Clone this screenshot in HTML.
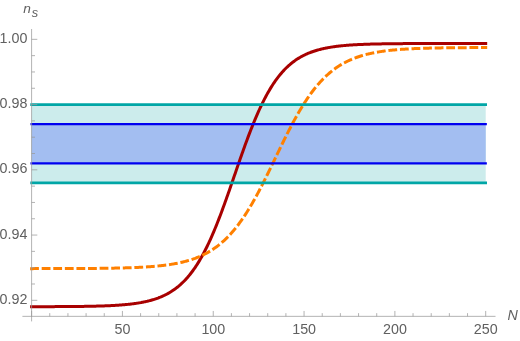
<!DOCTYPE html>
<html><head><meta charset="utf-8"><style>
html,body{margin:0;padding:0;background:#fff;}
body{width:520px;height:341px;overflow:hidden;font-family:"Liberation Sans",sans-serif;}
svg{display:block;will-change:transform;}
text{font-family:"Liberation Sans",sans-serif;font-size:14.3px;fill:#606060;}
</style></head><body>
<svg width="520" height="341" viewBox="0 0 520 341">
<rect width="520" height="341" fill="#fff"/>
<rect x="31.60" y="104.58" width="454.10" height="78.29" fill="#ccecec"/>
<rect x="31.60" y="124.15" width="454.10" height="39.14" fill="#a3bef1"/>
<path d="M31.60,306.69 L32.36,306.68 L33.11,306.68 L33.87,306.68 L34.63,306.68 L35.38,306.68 L36.14,306.68 L36.90,306.68 L37.65,306.68 L38.41,306.67 L39.17,306.67 L39.93,306.67 L40.68,306.67 L41.44,306.67 L42.20,306.67 L42.95,306.66 L43.71,306.66 L44.47,306.66 L45.22,306.66 L45.98,306.66 L46.74,306.65 L47.49,306.65 L48.25,306.65 L49.01,306.65 L49.76,306.64 L50.52,306.64 L51.28,306.64 L52.03,306.64 L52.79,306.63 L53.55,306.63 L54.30,306.63 L55.06,306.62 L55.82,306.62 L56.58,306.62 L57.33,306.61 L58.09,306.61 L58.85,306.61 L59.60,306.60 L60.36,306.60 L61.12,306.60 L61.87,306.59 L62.63,306.59 L63.39,306.58 L64.14,306.58 L64.90,306.57 L65.66,306.57 L66.41,306.56 L67.17,306.56 L67.93,306.55 L68.68,306.55 L69.44,306.54 L70.20,306.53 L70.96,306.53 L71.71,306.52 L72.47,306.51 L73.23,306.51 L73.98,306.50 L74.74,306.49 L75.50,306.48 L76.25,306.48 L77.01,306.47 L77.77,306.46 L78.52,306.45 L79.28,306.44 L80.04,306.43 L80.79,306.42 L81.55,306.41 L82.31,306.40 L83.06,306.39 L83.82,306.38 L84.58,306.37 L85.34,306.36 L86.09,306.34 L86.85,306.33 L87.61,306.32 L88.36,306.30 L89.12,306.29 L89.88,306.28 L90.63,306.26 L91.39,306.25 L92.15,306.23 L92.90,306.21 L93.66,306.20 L94.42,306.18 L95.17,306.16 L95.93,306.14 L96.69,306.12 L97.44,306.10 L98.20,306.08 L98.96,306.06 L99.72,306.04 L100.47,306.01 L101.23,305.99 L101.99,305.96 L102.74,305.94 L103.50,305.91 L104.26,305.88 L105.01,305.86 L105.77,305.83 L106.53,305.80 L107.28,305.77 L108.04,305.73 L108.80,305.70 L109.55,305.67 L110.31,305.63 L111.07,305.59 L111.82,305.55 L112.58,305.52 L113.34,305.47 L114.09,305.43 L114.85,305.39 L115.61,305.34 L116.37,305.30 L117.12,305.25 L117.88,305.20 L118.64,305.15 L119.39,305.10 L120.15,305.04 L120.91,304.98 L121.66,304.93 L122.42,304.87 L123.18,304.80 L123.93,304.74 L124.69,304.67 L125.45,304.60 L126.20,304.53 L126.96,304.46 L127.72,304.38 L128.47,304.30 L129.23,304.22 L129.99,304.14 L130.75,304.05 L131.50,303.96 L132.26,303.87 L133.02,303.77 L133.77,303.67 L134.53,303.57 L135.29,303.47 L136.04,303.36 L136.80,303.24 L137.56,303.13 L138.31,303.01 L139.07,302.88 L139.83,302.76 L140.58,302.62 L141.34,302.49 L142.10,302.34 L142.85,302.20 L143.61,302.05 L144.37,301.89 L145.12,301.73 L145.88,301.57 L146.64,301.39 L147.40,301.22 L148.15,301.03 L148.91,300.85 L149.67,300.65 L150.42,300.45 L151.18,300.24 L151.94,300.03 L152.69,299.81 L153.45,299.58 L154.21,299.34 L154.96,299.10 L155.72,298.85 L156.48,298.59 L157.23,298.32 L157.99,298.05 L158.75,297.76 L159.50,297.47 L160.26,297.17 L161.02,296.85 L161.78,296.53 L162.53,296.20 L163.29,295.86 L164.05,295.50 L164.80,295.14 L165.56,294.76 L166.32,294.38 L167.07,293.98 L167.83,293.57 L168.59,293.14 L169.34,292.71 L170.10,292.26 L170.86,291.80 L171.61,291.32 L172.37,290.83 L173.13,290.32 L173.88,289.80 L174.64,289.26 L175.40,288.71 L176.16,288.14 L176.91,287.56 L177.67,286.96 L178.43,286.34 L179.18,285.70 L179.94,285.05 L180.70,284.37 L181.45,283.68 L182.21,282.97 L182.97,282.24 L183.72,281.49 L184.48,280.72 L185.24,279.92 L185.99,279.11 L186.75,278.27 L187.51,277.41 L188.26,276.53 L189.02,275.63 L189.78,274.70 L190.53,273.75 L191.29,272.78 L192.05,271.78 L192.81,270.75 L193.56,269.70 L194.32,268.63 L195.08,267.53 L195.83,266.40 L196.59,265.25 L197.35,264.07 L198.10,262.86 L198.86,261.63 L199.62,260.37 L200.37,259.08 L201.13,257.76 L201.89,256.42 L202.64,255.04 L203.40,253.64 L204.16,252.22 L204.91,250.76 L205.67,249.27 L206.43,247.76 L207.19,246.22 L207.94,244.65 L208.70,243.05 L209.46,241.43 L210.21,239.77 L210.97,238.09 L211.73,236.39 L212.48,234.65 L213.24,232.89 L214.00,231.10 L214.75,229.29 L215.51,227.46 L216.27,225.59 L217.02,223.71 L217.78,221.80 L218.54,219.87 L219.29,217.91 L220.05,215.94 L220.81,213.94 L221.57,211.93 L222.32,209.89 L223.08,207.84 L223.84,205.77 L224.59,203.68 L225.35,201.58 L226.11,199.47 L226.86,197.34 L227.62,195.20 L228.38,193.05 L229.13,190.89 L229.89,188.72 L230.65,186.54 L231.40,184.36 L232.16,182.17 L232.92,179.98 L233.67,177.78 L234.43,175.58 L235.19,173.39 L235.94,171.19 L236.70,169.00 L237.46,166.81 L238.22,164.62 L238.97,162.44 L239.73,160.27 L240.49,158.10 L241.24,155.95 L242.00,153.80 L242.76,151.67 L243.51,149.55 L244.27,147.44 L245.03,145.35 L245.78,143.27 L246.54,141.21 L247.30,139.17 L248.05,137.14 L248.81,135.14 L249.57,133.15 L250.32,131.19 L251.08,129.25 L251.84,127.33 L252.60,125.43 L253.35,123.56 L254.11,121.71 L254.87,119.89 L255.62,118.09 L256.38,116.32 L257.14,114.57 L257.89,112.86 L258.65,111.16 L259.41,109.50 L260.16,107.86 L260.92,106.25 L261.68,104.67 L262.43,103.11 L263.19,101.59 L263.95,100.09 L264.70,98.62 L265.46,97.18 L266.22,95.77 L266.98,94.38 L267.73,93.02 L268.49,91.70 L269.25,90.39 L270.00,89.12 L270.76,87.87 L271.52,86.66 L272.27,85.46 L273.03,84.30 L273.79,83.16 L274.54,82.05 L275.30,80.96 L276.06,79.90 L276.81,78.87 L277.57,77.86 L278.33,76.87 L279.08,75.91 L279.84,74.97 L280.60,74.06 L281.36,73.17 L282.11,72.30 L282.87,71.45 L283.63,70.63 L284.38,69.83 L285.14,69.04 L285.90,68.28 L286.65,67.54 L287.41,66.82 L288.17,66.12 L288.92,65.44 L289.68,64.78 L290.44,64.13 L291.19,63.51 L291.95,62.90 L292.71,62.30 L293.46,61.73 L294.22,61.17 L294.98,60.63 L295.73,60.10 L296.49,59.59 L297.25,59.09 L298.01,58.60 L298.76,58.14 L299.52,57.68 L300.28,57.24 L301.03,56.81 L301.79,56.39 L302.55,55.99 L303.30,55.60 L304.06,55.22 L304.82,54.85 L305.57,54.49 L306.33,54.14 L307.09,53.81 L307.84,53.48 L308.60,53.16 L309.36,52.86 L310.11,52.56 L310.87,52.27 L311.63,51.99 L312.39,51.72 L313.14,51.46 L313.90,51.20 L314.66,50.96 L315.41,50.72 L316.17,50.48 L316.93,50.26 L317.68,50.04 L318.44,49.83 L319.20,49.63 L319.95,49.43 L320.71,49.24 L321.47,49.05 L322.22,48.87 L322.98,48.70 L323.74,48.53 L324.49,48.37 L325.25,48.21 L326.01,48.06 L326.77,47.91 L327.52,47.77 L328.28,47.63 L329.04,47.49 L329.79,47.36 L330.55,47.24 L331.31,47.11 L332.06,47.00 L332.82,46.88 L333.58,46.77 L334.33,46.66 L335.09,46.56 L335.85,46.46 L336.60,46.36 L337.36,46.27 L338.12,46.18 L338.87,46.09 L339.63,46.01 L340.39,45.92 L341.14,45.84 L341.90,45.77 L342.66,45.69 L343.42,45.62 L344.17,45.55 L344.93,45.48 L345.69,45.42 L346.44,45.35 L347.20,45.29 L347.96,45.23 L348.71,45.17 L349.47,45.12 L350.23,45.06 L350.98,45.01 L351.74,44.96 L352.50,44.91 L353.25,44.87 L354.01,44.82 L354.77,44.78 L355.52,44.73 L356.28,44.69 L357.04,44.65 L357.80,44.61 L358.55,44.58 L359.31,44.54 L360.07,44.51 L360.82,44.47 L361.58,44.44 L362.34,44.41 L363.09,44.38 L363.85,44.35 L364.61,44.32 L365.36,44.29 L366.12,44.26 L366.88,44.24 L367.63,44.21 L368.39,44.19 L369.15,44.16 L369.90,44.14 L370.66,44.12 L371.42,44.10 L372.18,44.08 L372.93,44.06 L373.69,44.04 L374.45,44.02 L375.20,44.00 L375.96,43.98 L376.72,43.97 L377.47,43.95 L378.23,43.94 L378.99,43.92 L379.74,43.91 L380.50,43.89 L381.26,43.88 L382.01,43.86 L382.77,43.85 L383.53,43.84 L384.28,43.83 L385.04,43.81 L385.80,43.80 L386.55,43.79 L387.31,43.78 L388.07,43.77 L388.83,43.76 L389.58,43.75 L390.34,43.74 L391.10,43.73 L391.85,43.73 L392.61,43.72 L393.37,43.71 L394.12,43.70 L394.88,43.69 L395.64,43.69 L396.39,43.68 L397.15,43.67 L397.91,43.67 L398.66,43.66 L399.42,43.65 L400.18,43.65 L400.93,43.64 L401.69,43.64 L402.45,43.63 L403.21,43.62 L403.96,43.62 L404.72,43.61 L405.48,43.61 L406.23,43.61 L406.99,43.60 L407.75,43.60 L408.50,43.59 L409.26,43.59 L410.02,43.58 L410.77,43.58 L411.53,43.58 L412.29,43.57 L413.04,43.57 L413.80,43.57 L414.56,43.56 L415.31,43.56 L416.07,43.56 L416.83,43.55 L417.59,43.55 L418.34,43.55 L419.10,43.55 L419.86,43.54 L420.61,43.54 L421.37,43.54 L422.13,43.54 L422.88,43.54 L423.64,43.53 L424.40,43.53 L425.15,43.53 L425.91,43.53 L426.67,43.53 L427.42,43.52 L428.18,43.52 L428.94,43.52 L429.69,43.52 L430.45,43.52 L431.21,43.52 L431.96,43.51 L432.72,43.51 L433.48,43.51 L434.24,43.51 L434.99,43.51 L435.75,43.51 L436.51,43.51 L437.26,43.50 L438.02,43.50 L438.78,43.50 L439.53,43.50 L440.29,43.50 L441.05,43.50 L441.80,43.50 L442.56,43.50 L443.32,43.50 L444.07,43.50 L444.83,43.49 L445.59,43.49 L446.34,43.49 L447.10,43.49 L447.86,43.49 L448.62,43.49 L449.37,43.49 L450.13,43.49 L450.89,43.49 L451.64,43.49 L452.40,43.49 L453.16,43.49 L453.91,43.49 L454.67,43.49 L455.43,43.49 L456.18,43.48 L456.94,43.48 L457.70,43.48 L458.45,43.48 L459.21,43.48 L459.97,43.48 L460.72,43.48 L461.48,43.48 L462.24,43.48 L463.00,43.48 L463.75,43.48 L464.51,43.48 L465.27,43.48 L466.02,43.48 L466.78,43.48 L467.54,43.48 L468.29,43.48 L469.05,43.48 L469.81,43.48 L470.56,43.48 L471.32,43.48 L472.08,43.48 L472.83,43.48 L473.59,43.48 L474.35,43.48 L475.10,43.48 L475.86,43.48 L476.62,43.48 L477.37,43.48 L478.13,43.48 L478.89,43.48 L479.65,43.48 L480.40,43.48 L481.16,43.47 L481.92,43.47 L482.67,43.47 L483.43,43.47 L484.19,43.47 L484.94,43.47 L485.70,43.47" fill="none" stroke="#a80000" stroke-width="3" stroke-linecap="square"/>
<path d="M31.60,268.63 L32.36,268.63 L33.11,268.63 L33.87,268.62 L34.63,268.62 L35.38,268.62 L36.14,268.62 L36.90,268.62 L37.65,268.62 L38.41,268.62 L39.17,268.62 L39.93,268.62 L40.68,268.62 L41.44,268.62 L42.20,268.62 L42.95,268.61 L43.71,268.61 L44.47,268.61 L45.22,268.61 L45.98,268.61 L46.74,268.61 L47.49,268.61 L48.25,268.61 L49.01,268.61 L49.76,268.60 L50.52,268.60 L51.28,268.60 L52.03,268.60 L52.79,268.60 L53.55,268.60 L54.30,268.60 L55.06,268.59 L55.82,268.59 L56.58,268.59 L57.33,268.59 L58.09,268.59 L58.85,268.59 L59.60,268.58 L60.36,268.58 L61.12,268.58 L61.87,268.58 L62.63,268.58 L63.39,268.57 L64.14,268.57 L64.90,268.57 L65.66,268.57 L66.41,268.56 L67.17,268.56 L67.93,268.56 L68.68,268.56 L69.44,268.55 L70.20,268.55 L70.96,268.55 L71.71,268.55 L72.47,268.54 L73.23,268.54 L73.98,268.54 L74.74,268.53 L75.50,268.53 L76.25,268.53 L77.01,268.52 L77.77,268.52 L78.52,268.51 L79.28,268.51 L80.04,268.51 L80.79,268.50 L81.55,268.50 L82.31,268.49 L83.06,268.49 L83.82,268.49 L84.58,268.48 L85.34,268.48 L86.09,268.47 L86.85,268.47 L87.61,268.46 L88.36,268.45 L89.12,268.45 L89.88,268.44 L90.63,268.44 L91.39,268.43 L92.15,268.42 L92.90,268.42 L93.66,268.41 L94.42,268.40 L95.17,268.40 L95.93,268.39 L96.69,268.38 L97.44,268.37 L98.20,268.37 L98.96,268.36 L99.72,268.35 L100.47,268.34 L101.23,268.33 L101.99,268.32 L102.74,268.31 L103.50,268.30 L104.26,268.29 L105.01,268.28 L105.77,268.27 L106.53,268.26 L107.28,268.25 L108.04,268.24 L108.80,268.23 L109.55,268.22 L110.31,268.20 L111.07,268.19 L111.82,268.18 L112.58,268.16 L113.34,268.15 L114.09,268.14 L114.85,268.12 L115.61,268.11 L116.37,268.09 L117.12,268.07 L117.88,268.06 L118.64,268.04 L119.39,268.02 L120.15,268.00 L120.91,267.99 L121.66,267.97 L122.42,267.95 L123.18,267.93 L123.93,267.91 L124.69,267.89 L125.45,267.86 L126.20,267.84 L126.96,267.82 L127.72,267.79 L128.47,267.77 L129.23,267.74 L129.99,267.72 L130.75,267.69 L131.50,267.66 L132.26,267.63 L133.02,267.61 L133.77,267.58 L134.53,267.54 L135.29,267.51 L136.04,267.48 L136.80,267.45 L137.56,267.41 L138.31,267.38 L139.07,267.34 L139.83,267.30 L140.58,267.26 L141.34,267.22 L142.10,267.18 L142.85,267.14 L143.61,267.10 L144.37,267.05 L145.12,267.01 L145.88,266.96 L146.64,266.91 L147.40,266.86 L148.15,266.81 L148.91,266.76 L149.67,266.70 L150.42,266.65 L151.18,266.59 L151.94,266.53 L152.69,266.47 L153.45,266.41 L154.21,266.35 L154.96,266.28 L155.72,266.21 L156.48,266.14 L157.23,266.07 L157.99,266.00 L158.75,265.92 L159.50,265.85 L160.26,265.77 L161.02,265.68 L161.78,265.60 L162.53,265.51 L163.29,265.42 L164.05,265.33 L164.80,265.24 L165.56,265.14 L166.32,265.04 L167.07,264.94 L167.83,264.83 L168.59,264.72 L169.34,264.61 L170.10,264.50 L170.86,264.38 L171.61,264.26 L172.37,264.14 L173.13,264.01 L173.88,263.88 L174.64,263.74 L175.40,263.60 L176.16,263.46 L176.91,263.32 L177.67,263.17 L178.43,263.01 L179.18,262.85 L179.94,262.69 L180.70,262.52 L181.45,262.35 L182.21,262.18 L182.97,261.99 L183.72,261.81 L184.48,261.62 L185.24,261.42 L185.99,261.22 L186.75,261.01 L187.51,260.80 L188.26,260.58 L189.02,260.36 L189.78,260.13 L190.53,259.89 L191.29,259.65 L192.05,259.40 L192.81,259.14 L193.56,258.88 L194.32,258.61 L195.08,258.34 L195.83,258.05 L196.59,257.76 L197.35,257.46 L198.10,257.16 L198.86,256.84 L199.62,256.52 L200.37,256.19 L201.13,255.85 L201.89,255.50 L202.64,255.15 L203.40,254.78 L204.16,254.41 L204.91,254.03 L205.67,253.63 L206.43,253.23 L207.19,252.82 L207.94,252.39 L208.70,251.96 L209.46,251.51 L210.21,251.06 L210.97,250.59 L211.73,250.11 L212.48,249.63 L213.24,249.13 L214.00,248.61 L214.75,248.09 L215.51,247.55 L216.27,247.00 L217.02,246.44 L217.78,245.86 L218.54,245.28 L219.29,244.68 L220.05,244.06 L220.81,243.43 L221.57,242.79 L222.32,242.13 L223.08,241.46 L223.84,240.77 L224.59,240.07 L225.35,239.36 L226.11,238.63 L226.86,237.88 L227.62,237.12 L228.38,236.34 L229.13,235.55 L229.89,234.74 L230.65,233.92 L231.40,233.08 L232.16,232.22 L232.92,231.34 L233.67,230.45 L234.43,229.55 L235.19,228.62 L235.94,227.68 L236.70,226.72 L237.46,225.75 L238.22,224.75 L238.97,223.74 L239.73,222.72 L240.49,221.67 L241.24,220.61 L242.00,219.53 L242.76,218.44 L243.51,217.32 L244.27,216.19 L245.03,215.05 L245.78,213.88 L246.54,212.70 L247.30,211.50 L248.05,210.29 L248.81,209.06 L249.57,207.81 L250.32,206.55 L251.08,205.27 L251.84,203.98 L252.60,202.67 L253.35,201.34 L254.11,200.00 L254.87,198.65 L255.62,197.28 L256.38,195.90 L257.14,194.50 L257.89,193.09 L258.65,191.67 L259.41,190.24 L260.16,188.79 L260.92,187.33 L261.68,185.87 L262.43,184.39 L263.19,182.90 L263.95,181.40 L264.70,179.89 L265.46,178.37 L266.22,176.85 L266.98,175.32 L267.73,173.78 L268.49,172.24 L269.25,170.69 L270.00,169.13 L270.76,167.57 L271.52,166.01 L272.27,164.44 L273.03,162.87 L273.79,161.30 L274.54,159.73 L275.30,158.15 L276.06,156.58 L276.81,155.01 L277.57,153.44 L278.33,151.87 L279.08,150.30 L279.84,148.73 L280.60,147.17 L281.36,145.62 L282.11,144.07 L282.87,142.52 L283.63,140.98 L284.38,139.45 L285.14,137.93 L285.90,136.41 L286.65,134.90 L287.41,133.40 L288.17,131.91 L288.92,130.43 L289.68,128.96 L290.44,127.50 L291.19,126.05 L291.95,124.62 L292.71,123.19 L293.46,121.78 L294.22,120.38 L294.98,119.00 L295.73,117.63 L296.49,116.27 L297.25,114.93 L298.01,113.61 L298.76,112.29 L299.52,111.00 L300.28,109.72 L301.03,108.45 L301.79,107.20 L302.55,105.97 L303.30,104.75 L304.06,103.55 L304.82,102.37 L305.57,101.20 L306.33,100.06 L307.09,98.92 L307.84,97.81 L308.60,96.71 L309.36,95.63 L310.11,94.57 L310.87,93.52 L311.63,92.49 L312.39,91.48 L313.14,90.48 L313.90,89.51 L314.66,88.54 L315.41,87.60 L316.17,86.67 L316.93,85.77 L317.68,84.87 L318.44,84.00 L319.20,83.14 L319.95,82.29 L320.71,81.47 L321.47,80.65 L322.22,79.86 L322.98,79.08 L323.74,78.32 L324.49,77.57 L325.25,76.84 L326.01,76.12 L326.77,75.42 L327.52,74.73 L328.28,74.06 L329.04,73.40 L329.79,72.75 L330.55,72.12 L331.31,71.50 L332.06,70.90 L332.82,70.31 L333.58,69.73 L334.33,69.17 L335.09,68.62 L335.85,68.08 L336.60,67.56 L337.36,67.04 L338.12,66.54 L338.87,66.05 L339.63,65.57 L340.39,65.10 L341.14,64.65 L341.90,64.20 L342.66,63.76 L343.42,63.34 L344.17,62.93 L344.93,62.52 L345.69,62.13 L346.44,61.74 L347.20,61.37 L347.96,61.00 L348.71,60.64 L349.47,60.29 L350.23,59.95 L350.98,59.62 L351.74,59.30 L352.50,58.98 L353.25,58.68 L354.01,58.38 L354.77,58.09 L355.52,57.80 L356.28,57.52 L357.04,57.25 L357.80,56.99 L358.55,56.73 L359.31,56.48 L360.07,56.24 L360.82,56.00 L361.58,55.77 L362.34,55.55 L363.09,55.33 L363.85,55.12 L364.61,54.91 L365.36,54.71 L366.12,54.51 L366.88,54.32 L367.63,54.13 L368.39,53.95 L369.15,53.77 L369.90,53.60 L370.66,53.43 L371.42,53.27 L372.18,53.11 L372.93,52.95 L373.69,52.80 L374.45,52.66 L375.20,52.51 L375.96,52.37 L376.72,52.24 L377.47,52.11 L378.23,51.98 L378.99,51.86 L379.74,51.73 L380.50,51.62 L381.26,51.50 L382.01,51.39 L382.77,51.28 L383.53,51.18 L384.28,51.07 L385.04,50.97 L385.80,50.88 L386.55,50.78 L387.31,50.69 L388.07,50.60 L388.83,50.51 L389.58,50.43 L390.34,50.35 L391.10,50.26 L391.85,50.19 L392.61,50.11 L393.37,50.04 L394.12,49.97 L394.88,49.90 L395.64,49.83 L396.39,49.76 L397.15,49.70 L397.91,49.64 L398.66,49.57 L399.42,49.52 L400.18,49.46 L400.93,49.40 L401.69,49.35 L402.45,49.30 L403.21,49.24 L403.96,49.19 L404.72,49.15 L405.48,49.10 L406.23,49.05 L406.99,49.01 L407.75,48.96 L408.50,48.92 L409.26,48.88 L410.02,48.84 L410.77,48.80 L411.53,48.76 L412.29,48.73 L413.04,48.69 L413.80,48.66 L414.56,48.62 L415.31,48.59 L416.07,48.56 L416.83,48.53 L417.59,48.50 L418.34,48.47 L419.10,48.44 L419.86,48.41 L420.61,48.39 L421.37,48.36 L422.13,48.33 L422.88,48.31 L423.64,48.29 L424.40,48.26 L425.15,48.24 L425.91,48.22 L426.67,48.20 L427.42,48.18 L428.18,48.15 L428.94,48.14 L429.69,48.12 L430.45,48.10 L431.21,48.08 L431.96,48.06 L432.72,48.04 L433.48,48.03 L434.24,48.01 L434.99,48.00 L435.75,47.98 L436.51,47.97 L437.26,47.95 L438.02,47.94 L438.78,47.92 L439.53,47.91 L440.29,47.90 L441.05,47.89 L441.80,47.87 L442.56,47.86 L443.32,47.85 L444.07,47.84 L444.83,47.83 L445.59,47.82 L446.34,47.81 L447.10,47.80 L447.86,47.79 L448.62,47.78 L449.37,47.77 L450.13,47.76 L450.89,47.75 L451.64,47.74 L452.40,47.73 L453.16,47.73 L453.91,47.72 L454.67,47.71 L455.43,47.70 L456.18,47.70 L456.94,47.69 L457.70,47.68 L458.45,47.68 L459.21,47.67 L459.97,47.66 L460.72,47.66 L461.48,47.65 L462.24,47.65 L463.00,47.64 L463.75,47.64 L464.51,47.63 L465.27,47.63 L466.02,47.62 L466.78,47.62 L467.54,47.61 L468.29,47.61 L469.05,47.60 L469.81,47.60 L470.56,47.59 L471.32,47.59 L472.08,47.59 L472.83,47.58 L473.59,47.58 L474.35,47.57 L475.10,47.57 L475.86,47.57 L476.62,47.56 L477.37,47.56 L478.13,47.56 L478.89,47.56 L479.65,47.55 L480.40,47.55 L481.16,47.55 L481.92,47.54 L482.67,47.54 L483.43,47.54 L484.19,47.54 L484.94,47.53 L485.70,47.53" fill="none" stroke="#ff8000" stroke-width="3" stroke-dasharray="5.8,5.787" stroke-linecap="square"/>
<g fill="none" stroke-linecap="square">
<line x1="31.60" y1="104.58" x2="485.70" y2="104.58" stroke="#00a6a6" stroke-width="2.6"/>
<line x1="31.60" y1="182.87" x2="485.70" y2="182.87" stroke="#00a6a6" stroke-width="2.6"/>
<line x1="31.60" y1="124.15" x2="485.70" y2="124.15" stroke="#0000f0" stroke-width="2.3"/>
<line x1="31.60" y1="163.30" x2="485.70" y2="163.30" stroke="#0000f0" stroke-width="2.3"/>
</g>
<g stroke="#999" stroke-width="0.75" fill="none">
<line x1="22.4" y1="316.35" x2="495.5" y2="316.35"/>
<line x1="31.6" y1="29" x2="31.6" y2="321.4"/>
<line x1="31.60" y1="316.35" x2="31.60" y2="310.95"/><line x1="49.76" y1="316.35" x2="49.76" y2="313.15"/><line x1="67.93" y1="316.35" x2="67.93" y2="313.15"/><line x1="86.09" y1="316.35" x2="86.09" y2="313.15"/><line x1="104.26" y1="316.35" x2="104.26" y2="313.15"/><line x1="122.42" y1="316.35" x2="122.42" y2="310.95"/><line x1="140.58" y1="316.35" x2="140.58" y2="313.15"/><line x1="158.75" y1="316.35" x2="158.75" y2="313.15"/><line x1="176.91" y1="316.35" x2="176.91" y2="313.15"/><line x1="195.08" y1="316.35" x2="195.08" y2="313.15"/><line x1="213.24" y1="316.35" x2="213.24" y2="310.95"/><line x1="231.40" y1="316.35" x2="231.40" y2="313.15"/><line x1="249.57" y1="316.35" x2="249.57" y2="313.15"/><line x1="267.73" y1="316.35" x2="267.73" y2="313.15"/><line x1="285.90" y1="316.35" x2="285.90" y2="313.15"/><line x1="304.06" y1="316.35" x2="304.06" y2="310.95"/><line x1="322.22" y1="316.35" x2="322.22" y2="313.15"/><line x1="340.39" y1="316.35" x2="340.39" y2="313.15"/><line x1="358.55" y1="316.35" x2="358.55" y2="313.15"/><line x1="376.72" y1="316.35" x2="376.72" y2="313.15"/><line x1="394.88" y1="316.35" x2="394.88" y2="310.95"/><line x1="413.04" y1="316.35" x2="413.04" y2="313.15"/><line x1="431.21" y1="316.35" x2="431.21" y2="313.15"/><line x1="449.37" y1="316.35" x2="449.37" y2="313.15"/><line x1="467.54" y1="316.35" x2="467.54" y2="313.15"/><line x1="485.70" y1="316.35" x2="485.70" y2="310.95"/><line x1="31.60" y1="300.30" x2="37.30" y2="300.30"/><line x1="31.60" y1="283.99" x2="35.00" y2="283.99"/><line x1="31.60" y1="267.68" x2="35.00" y2="267.68"/><line x1="31.60" y1="251.37" x2="35.00" y2="251.37"/><line x1="31.60" y1="235.06" x2="37.30" y2="235.06"/><line x1="31.60" y1="218.75" x2="35.00" y2="218.75"/><line x1="31.60" y1="202.44" x2="35.00" y2="202.44"/><line x1="31.60" y1="186.13" x2="35.00" y2="186.13"/><line x1="31.60" y1="169.82" x2="37.30" y2="169.82"/><line x1="31.60" y1="153.51" x2="35.00" y2="153.51"/><line x1="31.60" y1="137.20" x2="35.00" y2="137.20"/><line x1="31.60" y1="120.89" x2="35.00" y2="120.89"/><line x1="31.60" y1="104.58" x2="37.30" y2="104.58"/><line x1="31.60" y1="88.27" x2="35.00" y2="88.27"/><line x1="31.60" y1="71.96" x2="35.00" y2="71.96"/><line x1="31.60" y1="55.65" x2="35.00" y2="55.65"/><line x1="31.60" y1="39.34" x2="37.30" y2="39.34"/>
</g>
<text x="122.52" y="334.0" text-anchor="middle">50</text><text x="213.34" y="334.0" text-anchor="middle">100</text><text x="304.16" y="334.0" text-anchor="middle">150</text><text x="394.98" y="334.0" text-anchor="middle">200</text><text x="485.80" y="334.0" text-anchor="middle">250</text>
<text x="27.4" y="303.90" text-anchor="end">0.92</text><text x="27.4" y="238.66" text-anchor="end">0.94</text><text x="27.4" y="173.42" text-anchor="end">0.96</text><text x="27.4" y="108.18" text-anchor="end">0.98</text><text x="27.4" y="42.94" text-anchor="end">1.00</text>
<text x="23.3" y="12.7" style="font-style:italic;font-size:13.7px">n</text>
<text x="31.7" y="16.9" style="font-style:italic;font-size:12.8px">s</text>
<text x="507.4" y="320.2" style="font-style:italic;font-size:14.3px">N</text>
</svg>
</body></html>
